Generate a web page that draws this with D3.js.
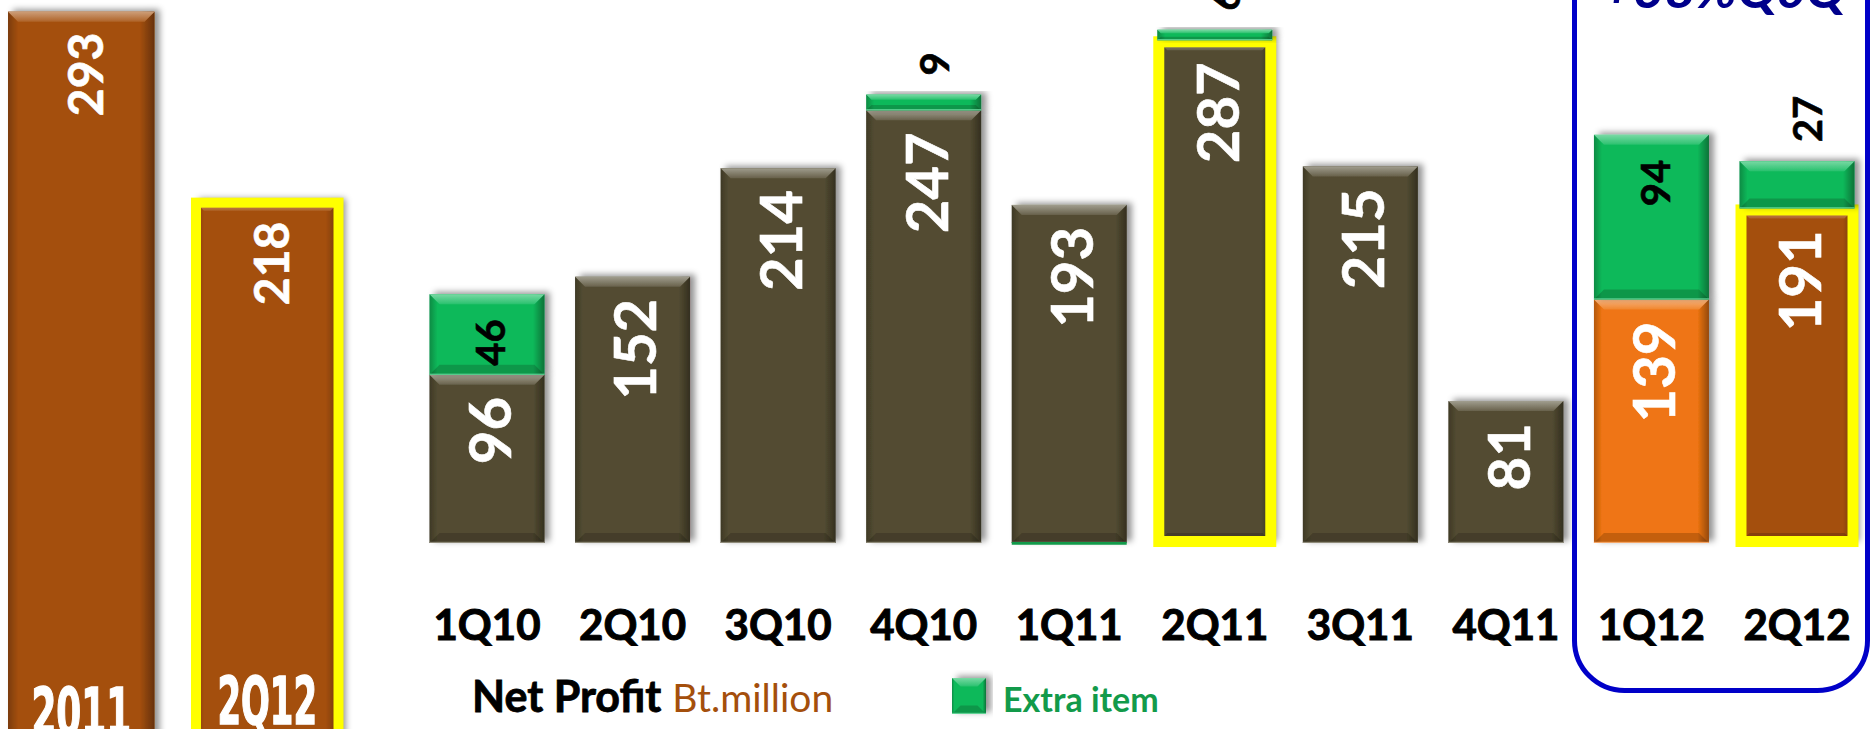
<!DOCTYPE html>
<html>
<head>
<meta charset="utf-8">
<script src="https://cdn.jsdelivr.net/npm/d3@7"></script>
<style>
  html, body { margin: 0; padding: 0; background: #fff; overflow: hidden; }
  svg { display: block; }
</style>
</head>
<body>
<svg id="chart" width="1872" height="729"></svg>
<script>
// Annual net profit (Bt.million)
const annualLabels = ["2011", "2Q12"];
const annualProfit = [293, 218];

// Quarterly net profit and extra items (Bt.million)
const quarters = ["1Q10", "2Q10", "3Q10", "4Q10", "1Q11", "2Q11", "3Q11", "4Q11", "1Q12", "2Q12"];
const netProfit = [96, 152, 214, 247, 193, 287, 215, 81, 139, 191];
const extraItem = [46, 0, 0, 9, -1, 6, 0, 0, 94, 27];

// Legend and note texts
const legendTitle = "Net Profit";
const legendUnit = "Bt.million";
const legendExtra = "Extra item";
const growthNote = "+38%QoQ";

// Periods outlined in yellow
const highlighted = ["2Q11", "2Q12"];

const COLORS = {
  olive: "#534C32",
  brown: "#A44F0C",
  orange: "#EF7512",
  green: "#0CB95A",
  yellow: "#FFFF00",
  frame: "#0000C8",
  legendGreen: "#129A4A",
  note: "#00008B"
};
const netColor = q => q === "1Q12" ? COLORS.orange : (q === "2Q12" ? COLORS.brown : COLORS.olive);

const svg = d3.select("#chart");
const defs = svg.append("defs");

// soft drop shadow behind the bars
const shadow = defs.append("filter").attr("id", "shadow")
  .attr("x", "-20%").attr("y", "-20%").attr("width", "140%").attr("height", "140%");
shadow.append("feDropShadow").attr("dx", 5).attr("dy", -2).attr("stdDeviation", 3)
  .attr("flood-color", "#000").attr("flood-opacity", 0.42);

// darker left/right edges of each bar
const side = defs.append("linearGradient").attr("id", "sideShade")
  .attr("x1", 0).attr("x2", 1).attr("y1", 0).attr("y2", 0);
[[0, 0.25], [0.07, 0], [0.9, 0], [1, 0.38]].forEach(([o, a]) =>
  side.append("stop").attr("offset", o).attr("stop-color", "#000").attr("stop-opacity", a));

// lighter top facet, one gradient per fill colour
function topGradient(color) {
  const id = "top-" + color.replace("#", "");
  if (defs.select("#" + id).empty()) {
    const g = defs.append("linearGradient").attr("id", id)
      .attr("x1", 0).attr("x2", 0).attr("y1", 0).attr("y2", 1);
    g.append("stop").attr("offset", 0).attr("stop-color", d3.interpolateRgb(color, "#fff")(0.45));
    g.append("stop").attr("offset", 1).attr("stop-color", d3.interpolateRgb(color, "#fff")(0.12));
  }
  return "url(#" + id + ")";
}

// one bevelled block
function bevelBar(g, x, y, w, h, color) {
  if (h < 4) {
    g.append("rect").attr("x", x).attr("y", y).attr("width", w).attr("height", h).attr("fill", color);
    return;
  }
  const b = Math.min(10, h / 3, w / 4);
  g.append("rect").attr("x", x).attr("y", y).attr("width", w).attr("height", h).attr("fill", color);
  g.append("rect").attr("x", x).attr("y", y).attr("width", w).attr("height", h).attr("fill", "url(#sideShade)");
  g.append("path")
    .attr("d", `M${x},${y}H${x + w}L${x + w - b},${y + b}H${x + b}Z`)
    .attr("fill", topGradient(color));
  g.append("path")
    .attr("d", `M${x},${y + h}H${x + w}L${x + w - b},${y + h - b}H${x + b}Z`)
    .attr("fill", "#000").attr("opacity", 0.18);
  g.append("rect").attr("x", x).attr("y", y + h - 1.2).attr("width", w).attr("height", 1.2)
    .attr("fill", d3.interpolateRgb(color, "#fff")(0.35));
}

function verticalLabel(g, text, cx, yPos, anchor, size, color) {
  g.append("text")
    .attr("transform", `translate(${cx + size * 0.36},${yPos}) rotate(-90)`)
    .attr("text-anchor", anchor)
    .attr("font-family", "Lato, 'Open Sans', sans-serif")
    .attr("font-weight", 700)
    .attr("font-size", size)
    .attr("fill", color)
    .attr("stroke", color)
    .attr("stroke-width", 0.6)
    .text(text);
}

// ---------- annual bars ----------
const xA = d3.scaleBand().domain(annualLabels).range([8, 340.5]).paddingInner(0.212);
const yA = d3.scaleLinear().domain([0, 300]).range([750, -6]);
const gA = svg.append("g");

annualLabels.forEach((lab, i) => {
  const x0 = xA(lab), bw = xA.bandwidth();
  const top = yA(annualProfit[i]);
  const g = gA.append("g").attr("filter", "url(#shadow)");
  bevelBar(g, x0, top, bw, yA(0) - top, COLORS.brown);
  if (lab === "2Q12") {
    gA.append("rect").attr("x", x0 + 2).attr("y", top + 2).attr("width", bw - 4).attr("height", yA(0) - top)
      .attr("fill", "none").attr("stroke", COLORS.yellow).attr("stroke-width", 10);
  }
  verticalLabel(gA, annualProfit[i], x0 + bw / 2 + 4, top + 21, "end", 48, "#fff");
  gA.append("text")
    .attr("x", x0 + bw / 2).attr("y", i === 0 ? 735 : 724)
    .attr("text-anchor", "middle")
    .attr("font-family", "'Liberation Sans Narrow', 'DejaVu Sans Condensed', sans-serif")
    .attr("font-weight", 700)
    .attr("font-size", 66)
    .attr("textLength", bw * 0.68)
    .attr("lengthAdjust", "spacingAndGlyphs")
    .attr("fill", "#fff")
    .attr("stroke", "#fff")
    .attr("stroke-width", 1.5)
    .text(lab);
});

// ---------- quarterly stacked bars ----------
const x = d3.scaleBand().domain(quarters).range([429.5, 1854.5]).paddingInner(0.21);
const y = d3.scaleLinear().domain([0, 310]).range([543, 0]);
const gQ = svg.append("g");

// rounded frame around the latest quarters
svg.append("rect")
  .attr("x", 1574.5).attr("y", -60).attr("width", 293).attr("height", 750.5)
  .attr("rx", 50).attr("ry", 50)
  .attr("fill", "none").attr("stroke", COLORS.frame).attr("stroke-width", 5);

quarters.forEach((q, i) => {
  const x0 = x(q), bw = x.bandwidth(), cx = x0 + bw / 2;
  const net = netProfit[i], ext = extraItem[i];
  const netTop = y(net);
  const g = gQ.append("g").attr("filter", "url(#shadow)");
  bevelBar(g, x0, netTop, bw, y(0) - netTop, netColor(q));
  if (highlighted.includes(q)) {
    gQ.append("rect").attr("x", x0 + 1.5).attr("y", netTop + 1.5).attr("width", bw - 3)
      .attr("height", y(0) - netTop - 3)
      .attr("fill", "none").attr("stroke", COLORS.yellow).attr("stroke-width", 11);
  }
  if (ext > 0) {
    const eTop = y(net + ext);
    const ge = gQ.append("g").attr("filter", "url(#shadow)");
    bevelBar(ge, x0, eTop, bw, netTop - eTop, COLORS.green);
    if (netTop - eTop > 60) {
      verticalLabel(gQ, ext, cx + 4, eTop + 25, "end", 40, "#000");
    } else {
      verticalLabel(gQ, ext, cx + 11, eTop - 19, "start", 40, "#000");
    }
  } else if (ext < 0) {
    gQ.append("rect").attr("x", x0).attr("y", y(0) - 1).attr("width", bw)
      .attr("height", y(ext) - y(0) + 1).attr("fill", COLORS.legendGreen);
  }
  verticalLabel(gQ, net, cx + 3, netTop + 22, "end", 58, "#fff");

  gQ.append("text")
    .attr("x", cx).attr("y", 640)
    .attr("text-anchor", "middle")
    .attr("font-family", "Lato, 'Open Sans', sans-serif")
    .attr("font-weight", 700)
    .attr("font-size", 42)
    .attr("fill", "#000")
    .attr("stroke", "#000")
    .attr("stroke-width", 1)
    .text(q);
});

// growth note at the top of the frame
svg.append("text")
  .attr("x", 1724).attr("y", 8)
  .attr("text-anchor", "middle")
  .attr("font-family", "Lato, 'Open Sans', sans-serif")
  .attr("font-weight", 700)
  .attr("font-style", "italic")
  .attr("font-size", 54)
  .attr("fill", COLORS.note)
  .text(growthNote);

// ---------- legend ----------
const lg = svg.append("g");
const title = lg.append("text")
  .attr("x", 472).attr("y", 712)
  .attr("font-family", "Lato, 'Open Sans', sans-serif");
title.append("tspan").attr("font-weight", 700).attr("font-size", 43).attr("fill", "#000")
  .attr("stroke", "#000").attr("stroke-width", 0.8).text(legendTitle);
title.append("tspan").attr("dx", 11).attr("font-weight", 400).attr("font-size", 39).attr("fill", COLORS.brown).text(legendUnit);

const sw = lg.append("g").attr("filter", "url(#shadow)");
bevelBar(sw, 952, 678, 34, 36, COLORS.green);
lg.append("text")
  .attr("x", 1003).attr("y", 712)
  .attr("font-family", "Lato, 'Open Sans', sans-serif")
  .attr("font-weight", 700).attr("font-size", 34)
  .attr("fill", COLORS.legendGreen)
  .text(legendExtra);
</script>
</body>
</html>
